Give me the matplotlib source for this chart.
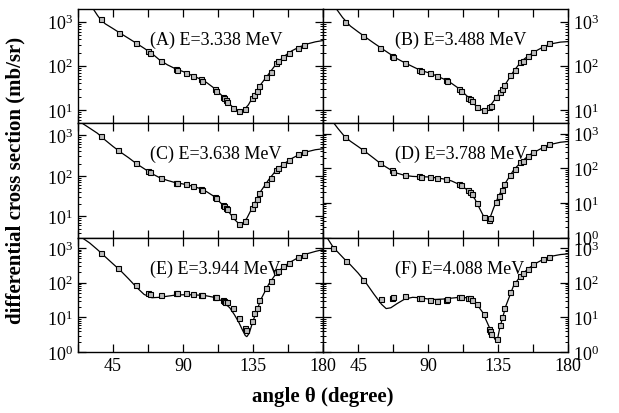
import numpy as np
import matplotlib
matplotlib.use("Agg")
from matplotlib import pyplot as plt
from matplotlib.ticker import FixedLocator, FuncFormatter, LogLocator, LogFormatterSciNotation

plt.rcParams['font.family'] = ['Liberation Serif', 'DejaVu Serif']
plt.rcParams['mathtext.fontset'] = 'custom'
plt.rcParams['mathtext.rm'] = 'Liberation Serif'
plt.rcParams['mathtext.it'] = 'Liberation Serif:italic'
plt.rcParams['mathtext.bf'] = 'Liberation Serif:bold'

labels = ["(A) E=3.338 MeV", "(B) E=3.488 MeV", "(C) E=3.638 MeV",
          "(D) E=3.788 MeV", "(E) E=3.944 MeV", "(F) E=4.088 MeV"]
ylims = [(5, 2000), (5, 2000), (3, 2000), (1, 2000), (1, 2000), (1, 2000)]

# measured angular distributions (deg, mb/sr)
th_a = [37.1, 48.9, 59.8, 67.7, 68.8, 75.9, 85.3, 86.2, 92.0, 96.3, 101.6, 102.2, 110.6, 111.1,
        115.5, 116.0, 117.5, 118.1, 122.0, 126.2, 129.9, 134.2, 135.9, 137.4, 138.9, 143.2,
        146.4, 149.6, 151.3, 154.5, 157.9, 164.1, 167.8]
xs_a = [1130, 562, 327, 216, 198, 126, 85, 82, 70, 59, 50, 46, 30, 27,
        19.8, 18.5, 16.9, 15.4, 11.1, 9.3, 10.2, 18.5, 21.7, 27, 34.6, 56,
        74, 116, 126, 160, 198, 260, 294]

th_b = [36.6, 48.0, 59.2, 66.7, 67.7, 75.2, 84.2, 85.2, 91.3, 95.6, 101.4, 102.0, 110.1, 111.0,
        115.9, 116.9, 118.1, 121.3, 125.6, 129.4, 130.3, 133.7, 135.9, 137.4, 138.9, 142.7,
        145.5, 149.2, 150.9, 154.1, 157.3, 163.5, 167.8]
xs_b = [1000, 485, 260, 171, 160, 116, 80, 78, 68, 59, 47, 44, 30, 27,
        19, 17.5, 16, 11.6, 9.7, 11.6, 12.4, 19.8, 25, 30, 36, 62,
        80, 120, 131, 165, 204, 268, 322]

th_c = [37.3, 48.4, 59.8, 67.3, 68.5, 75.9, 85.3, 86.2, 92.0, 96.3, 101.6, 102.2, 110.6, 111.1,
        115.5, 116.0, 117.5, 118.1, 122.0, 126.2, 129.9, 134.2, 135.9, 137.4, 138.9, 143.2,
        146.4, 149.6, 151.3, 154.5, 157.9, 164.1, 167.8]
xs_c = [944, 436, 203, 133, 126, 87, 68, 67, 62, 56, 48, 46, 30, 28,
        18.8, 17.8, 16.1, 15.6, 10.4, 6.4, 7.5, 16.1, 20.7, 27.5, 36.7, 64,
        87, 138, 152, 195, 245, 347, 389]

th_d = [36.6, 48.0, 59.2, 66.7, 67.7, 75.2, 84.2, 85.2, 91.3, 95.6, 101.4, 110.1, 111.0,
        115.9, 116.9, 118.1, 121.3, 125.6, 128.8, 129.9, 133.7, 135.2, 137.4, 138.9, 142.7,
        145.5, 149.2, 150.9, 154.1, 157.3, 163.5, 167.8]
xs_d = [769, 334, 139, 86, 80, 62, 58, 57, 57, 53, 48.5, 35, 32,
        23, 21, 17.7, 10, 4.0, 3.3, 3.6, 10.5, 16.2, 23, 35, 65,
        96, 148, 166, 225, 292, 406, 507]

th_e = [37.3, 48.4, 59.8, 67.7, 68.5, 75.9, 85.3, 86.2, 92.0, 96.3, 101.6, 102.2, 110.6, 111.1,
        115.5, 116.0, 117.1, 118.1, 122.0, 126.2, 129.9, 130.3, 134.2, 135.9, 137.4, 138.9,
        143.2, 146.4, 149.6, 151.3, 154.5, 157.9, 164.1, 167.8]
xs_e = [705, 263, 84, 52, 48.5, 45, 52, 51, 51, 48.5, 45, 44, 39, 38,
        31, 30, 28.5, 27, 18.9, 9.4, 4.85, 4.4, 7.9, 13, 19.3, 31,
        70, 112, 202, 224, 300, 373, 541, 645]

th_f = [29.1, 37.3, 48.0, 59.6, 66.7, 67.7, 75.2, 84.2, 85.2, 91.3, 95.6, 101.4, 102.0, 110.1,
        111.0, 115.9, 116.9, 118.1, 121.3, 125.6, 129.4, 129.9, 130.3, 134.2, 135.9, 137.4,
        138.9, 142.7, 145.5, 149.2, 150.9, 154.1, 157.3, 163.5, 167.8]
xs_f = [980, 425, 122, 34, 37, 38, 41, 37, 36, 31, 30.6, 32.7, 34, 38,
        38, 37, 36, 31, 25, 12.7, 4.7, 4.1, 3.3, 2.35, 5.9, 10.5,
        18.9, 53, 98, 158, 197, 251, 342, 474, 565]

# calculated curves
ct_a = [28, 30, 35, 37, 40, 45, 50, 55, 60, 65, 70, 75, 80, 85, 90, 95, 100, 105, 110, 115, 120,
        123, 126, 129, 132, 135, 140, 145, 150, 155, 160, 165, 170, 175, 180]
cv_a = [3600, 2600, 1400, 1130, 900, 700, 540, 420, 325, 250, 190, 135, 105, 86, 74, 62, 52, 42,
        31, 21, 13.5, 10.5, 9.2, 9.8, 13, 20, 38, 65, 112, 165, 220, 270, 315, 350, 375]

ct_b = [28, 30, 35, 40, 45, 50, 55, 60, 65, 70, 75, 80, 85, 90, 95, 100, 105, 110, 115, 120,
        123, 125.5, 128, 131, 135, 140, 145, 150, 155, 160, 165, 170, 175, 180]
cv_b = [3000, 2200, 1250, 800, 590, 440, 330, 250, 190, 145, 117, 96, 79, 70, 60, 50, 40, 30,
        20.5, 13, 10.5, 9.6, 10.5, 14, 22, 40, 76, 128, 175, 225, 280, 320, 345, 355]

ct_c = [23, 25, 30, 35, 40, 45, 50, 55, 60, 65, 70, 75, 80, 85, 90, 95, 100, 105, 110, 115, 120,
        123, 126, 128, 131, 135, 140, 145, 150, 155, 160, 165, 170, 175, 180]
cv_c = [2500, 2000, 1500, 1120, 760, 530, 380, 280, 200, 150, 113, 90, 77, 68, 63, 57, 50, 41,
        31, 20, 12, 8.5, 6.5, 6.5, 9, 18, 42, 80, 140, 200, 270, 340, 395, 440, 465]

ct_d = [27, 29, 32, 36, 40, 45, 50, 55, 60, 65, 70, 75, 80, 85, 90, 95, 100, 105, 110, 115, 120,
        123, 126, 128, 130, 132, 135, 140, 145, 150, 155, 160, 165, 170, 175, 180]
cv_d = [3000, 2100, 1400, 850, 600, 420, 290, 195, 130, 95, 72, 62, 58, 57, 56, 53, 49, 43, 34,
        24, 13, 7, 3.8, 3.2, 4.0, 7, 15, 40, 90, 155, 240, 320, 420, 500, 560, 590]

ct_e = [23, 25, 30, 35, 40, 45, 50, 55, 60, 65, 70, 75, 80, 85, 90, 95, 100, 105, 110, 115, 120,
        123, 126, 128, 130, 131, 132.5, 135, 140, 145, 150, 155, 160, 165, 170, 175, 180]
cv_e = [2600, 2000, 1400, 900, 560, 350, 220, 130, 75, 46, 37, 38, 41, 44, 45, 45, 44, 42, 38,
        30, 19, 12, 7, 4.5, 3.0, 2.8, 3.5, 8, 33, 90, 190, 300, 420, 560, 690, 800, 900]

ct_f = [23, 25, 29, 33, 37, 40, 45, 50, 55, 60, 63, 66, 70, 75, 80, 85, 90, 95, 100, 105, 110,
        115, 120, 125, 128, 131, 133, 134.5, 136, 140, 145, 150, 155, 160, 165, 170, 175, 180]
cv_f = [3000, 2000, 1050, 680, 440, 330, 190, 100, 48, 24, 18, 19, 25, 34, 38, 37, 34, 33, 34,
        36, 38, 37, 29, 14, 7, 3.5, 2.3, 2.3, 5, 22, 85, 170, 270, 380, 500, 590, 650, 680]

exp_sets = [(th_a, xs_a), (th_b, xs_b), (th_c, xs_c), (th_d, xs_d), (th_e, xs_e), (th_f, xs_f)]
fit_sets = [(ct_a, cv_a), (ct_b, cv_b), (ct_c, cv_c), (ct_d, cv_d), (ct_e, cv_e), (ct_f, cv_f)]

fig, axes = plt.subplots(3, 2, figsize=(6.19, 4.14), dpi=100, sharex=True)
fig.subplots_adjust(left=0.126, right=0.918, top=0.977, bottom=0.147, hspace=0, wspace=0)

xticks = np.arange(22.5, 180.1, 22.5)

for i, ax in enumerate(axes.flat):
    th, xs = exp_sets[i]
    ct, cv = fit_sets[i]
    ax.plot(ct, cv, color='black', lw=0.9, zorder=2)
    ax.plot(th, xs, ls='none', marker='s', ms=3.6, mfc='#bdbdbd', mec='black', mew=0.8, zorder=3)
    ax.set_yscale('log')
    ax.set_ylim(*ylims[i])
    ax.set_xlim(22.5, 180)
    ax.text(0.294, 0.735, labels[i], transform=ax.transAxes, ha='left', va='center', fontsize=13)

    ax.xaxis.set_major_locator(FixedLocator(xticks))
    ax.xaxis.set_major_formatter(FuncFormatter(lambda v, p: f"{int(v)}" if v % 45 == 0 else ""))
    ax.yaxis.set_major_locator(LogLocator(base=10, numticks=12))
    ax.yaxis.set_minor_locator(LogLocator(base=10, subs=np.arange(2, 10), numticks=12))
    ax.yaxis.set_major_formatter(LogFormatterSciNotation())
    ax.tick_params(which='both', direction='in', top=True, bottom=True, left=True, right=True,
                   labelsize=13, width=0.9)
    ax.tick_params(which='major', length=5.5)
    ax.tick_params(which='minor', length=2.5, width=0.7)
    if i % 2 == 0:
        ax.tick_params(labelleft=True, labelright=False)
    else:
        ax.tick_params(labelleft=False, labelright=True)
    for s in ax.spines.values():
        s.set_linewidth(1.0)

fig.text(0.025, 0.563, "differential cross section (mb/sr)", rotation=90, ha='center', va='center',
         fontsize=15, fontweight='bold')
fig.text(0.522, 0.042, "angle \u03b8 (degree)", ha='center', va='center', fontsize=15, fontweight='bold')

fig.savefig("out.png", dpi=100)
